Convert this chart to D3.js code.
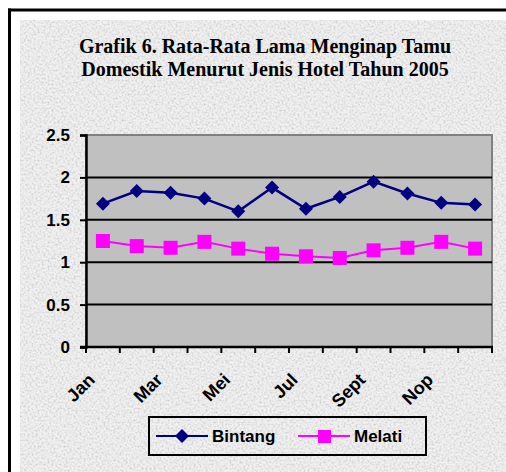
<!DOCTYPE html>
<html>
<head>
<meta charset="utf-8">
<script src="https://cdn.jsdelivr.net/npm/d3@7"></script>
<style>
  body { margin: 0; background: #fff; }
  svg { display: block; }
</style>
</head>
<body>
<div id="chart"></div>
<script>
var months = ["Jan", "Feb", "Mar", "Apr", "Mei", "Jun", "Jul", "Agt", "Sept", "Okt", "Nop", "Des"];
var bintang = [1.69, 1.84, 1.82, 1.75, 1.6, 1.88, 1.63, 1.77, 1.95, 1.81, 1.7, 1.68];
var melati = [1.25, 1.19, 1.17, 1.24, 1.16, 1.1, 1.07, 1.05, 1.14, 1.17, 1.24, 1.16];
var yTicks = [0, 0.5, 1, 1.5, 2, 2.5];
var shownLabels = ["Jan", "Mar", "Mei", "Jul", "Sept", "Nop"];
var titleLines = ["Grafik 6. Rata-Rata Lama Menginap Tamu", "Domestik Menurut Jenis Hotel Tahun 2005"];

var width = 506, height = 472;
var plot = { left: 86, top: 135, right: 492, bottom: 347 };

var svg = d3.select("#chart").append("svg")
  .attr("width", width)
  .attr("height", height);

// granite-ish texture
var defs = svg.append("defs");
var f = defs.append("filter").attr("id", "granite")
  .attr("x", 0).attr("y", 0).attr("width", "100%").attr("height", "100%");
f.append("feTurbulence").attr("type", "fractalNoise").attr("baseFrequency", 0.5)
  .attr("numOctaves", 3).attr("seed", 7).attr("result", "n");
f.append("feColorMatrix").attr("in", "n").attr("type", "matrix")
  .attr("values", "0 0 0 0 0.55  0 0 0 0 0.55  0 0 0 0 0.55  1.8 0 0 0 -0.72")
  .attr("result", "spots");
f.append("feFlood").attr("flood-color", "#f1f1f1").attr("result", "bg");
f.append("feComposite").attr("in", "spots").attr("in2", "bg").attr("operator", "over");

svg.append("rect").attr("x", 20).attr("y", 20)
  .attr("width", width - 20).attr("height", height - 20)
  .attr("filter", "url(#granite)");

// outer frame (top + left visible)
svg.append("line").attr("x1", 8).attr("x2", width).attr("y1", 10).attr("y2", 10)
  .attr("stroke", "#000").attr("stroke-width", 3);
svg.append("line").attr("x1", 9.5).attr("x2", 9.5).attr("y1", 8.5).attr("y2", height)
  .attr("stroke", "#000").attr("stroke-width", 3);

// title
svg.append("g").selectAll("text").data(titleLines).enter().append("text")
  .attr("x", 265)
  .attr("y", function (d, i) { return 53 + i * 23; })
  .attr("text-anchor", "middle")
  .style("font-family", "'Liberation Serif', 'Times New Roman', serif")
  .style("font-weight", "bold")
  .style("font-size", "20px")
  .text(function (d) { return d; });

var x = d3.scaleBand().domain(months).range([plot.left, plot.right]);
var y = d3.scaleLinear().domain([0, 2.5]).range([plot.bottom, plot.top]);

// plot area
svg.append("rect")
  .attr("x", plot.left).attr("y", plot.top)
  .attr("width", plot.right - plot.left).attr("height", plot.bottom - plot.top)
  .attr("fill", "#c0c0c0")
  .attr("stroke", "#808080").attr("stroke-width", 2);

svg.append("g").selectAll("line").data(yTicks.filter(function (d) { return d > 0 && d < 2.5; }))
  .enter().append("line")
  .attr("x1", plot.left).attr("x2", plot.right)
  .attr("y1", function (d) { return y(d); }).attr("y2", function (d) { return y(d); })
  .attr("stroke", "#000").attr("stroke-width", 2);

// y axis
var yAxis = svg.append("g")
  .attr("transform", "translate(" + plot.left + ",0)")
  .call(d3.axisLeft(y).tickValues(yTicks).tickSize(6).tickPadding(10)
    .tickFormat(function (d) { return d; }));
yAxis.select(".domain").attr("stroke", "#000").attr("stroke-width", 2.5);
yAxis.selectAll(".tick line").attr("stroke", "#000").attr("stroke-width", 2);
yAxis.selectAll("text")
  .style("font-family", "'Liberation Sans', Arial, sans-serif")
  .style("font-weight", "bold")
  .style("font-size", "17px")
  .attr("fill", "#000");

// x axis ticks at category boundaries
var bounds = months.map(function (m) { return x(m); }).concat([plot.right]);
svg.append("line").attr("x1", plot.left - 6).attr("x2", plot.right + 1)
  .attr("y1", plot.bottom).attr("y2", plot.bottom)
  .attr("stroke", "#000").attr("stroke-width", 2.5);
svg.append("g").selectAll("line").data(bounds).enter().append("line")
  .attr("x1", function (d) { return d; }).attr("x2", function (d) { return d; })
  .attr("y1", plot.bottom).attr("y2", plot.bottom + 6)
  .attr("stroke", "#000").attr("stroke-width", 2);

svg.append("g").selectAll("text").data(shownLabels).enter().append("text")
  .attr("transform", function (d) {
    return "translate(" + (x(d) + x.bandwidth() / 2 - 7) + "," + 381 + ") rotate(-45)";
  })
  .attr("text-anchor", "end")
  .style("font-family", "'Liberation Sans', Arial, sans-serif")
  .style("font-weight", "bold")
  .style("font-size", "18px")
  .text(function (d) { return d; });

// series
var line = d3.line()
  .x(function (d, i) { return x(months[i]) + x.bandwidth() / 2; })
  .y(function (d) { return y(d); });

svg.append("path").datum(melati).attr("d", line)
  .attr("fill", "none").attr("stroke", "#ff00ff").attr("stroke-width", 2);
svg.append("g").selectAll("rect").data(melati).enter().append("rect")
  .attr("x", function (d, i) { return x(months[i]) + x.bandwidth() / 2 - 7; })
  .attr("y", function (d) { return y(d) - 7; })
  .attr("width", 14).attr("height", 14)
  .attr("fill", "#ff00ff");

svg.append("path").datum(bintang).attr("d", line)
  .attr("fill", "none").attr("stroke", "#000080").attr("stroke-width", 2.5);
var diamond = "M0,-7L7,0L0,7L-7,0Z";
svg.append("g").selectAll("path").data(bintang).enter().append("path")
  .attr("transform", function (d, i) {
    return "translate(" + (x(months[i]) + x.bandwidth() / 2) + "," + y(d) + ")";
  })
  .attr("d", diamond)
  .attr("fill", "#000080");

// legend
var legend = svg.append("g");
legend.append("rect").attr("x", 149).attr("y", 417).attr("width", 277).attr("height", 38)
  .attr("fill", "none").attr("stroke", "#000").attr("stroke-width", 2);

var items = [
  { name: "Bintang", color: "#000080", x0: 156, shape: "diamond" },
  { name: "Melati", color: "#ff00ff", x0: 298, shape: "square" }
];
items.forEach(function (it) {
  legend.append("line").attr("x1", it.x0).attr("x2", it.x0 + 52)
    .attr("y1", 436).attr("y2", 436)
    .attr("stroke", it.color).attr("stroke-width", 2);
  if (it.shape === "diamond") {
    legend.append("path").attr("d", diamond)
      .attr("transform", "translate(" + (it.x0 + 26) + ",436)")
      .attr("fill", it.color);
  } else {
    legend.append("rect").attr("x", it.x0 + 20).attr("y", 430)
      .attr("width", 13).attr("height", 13).attr("fill", it.color);
  }
  legend.append("text").attr("x", it.x0 + 56).attr("y", 442)
    .style("font-family", "'Liberation Sans', Arial, sans-serif")
    .style("font-weight", "bold")
    .style("font-size", "17px")
    .text(it.name);
});
</script>
</body>
</html>
